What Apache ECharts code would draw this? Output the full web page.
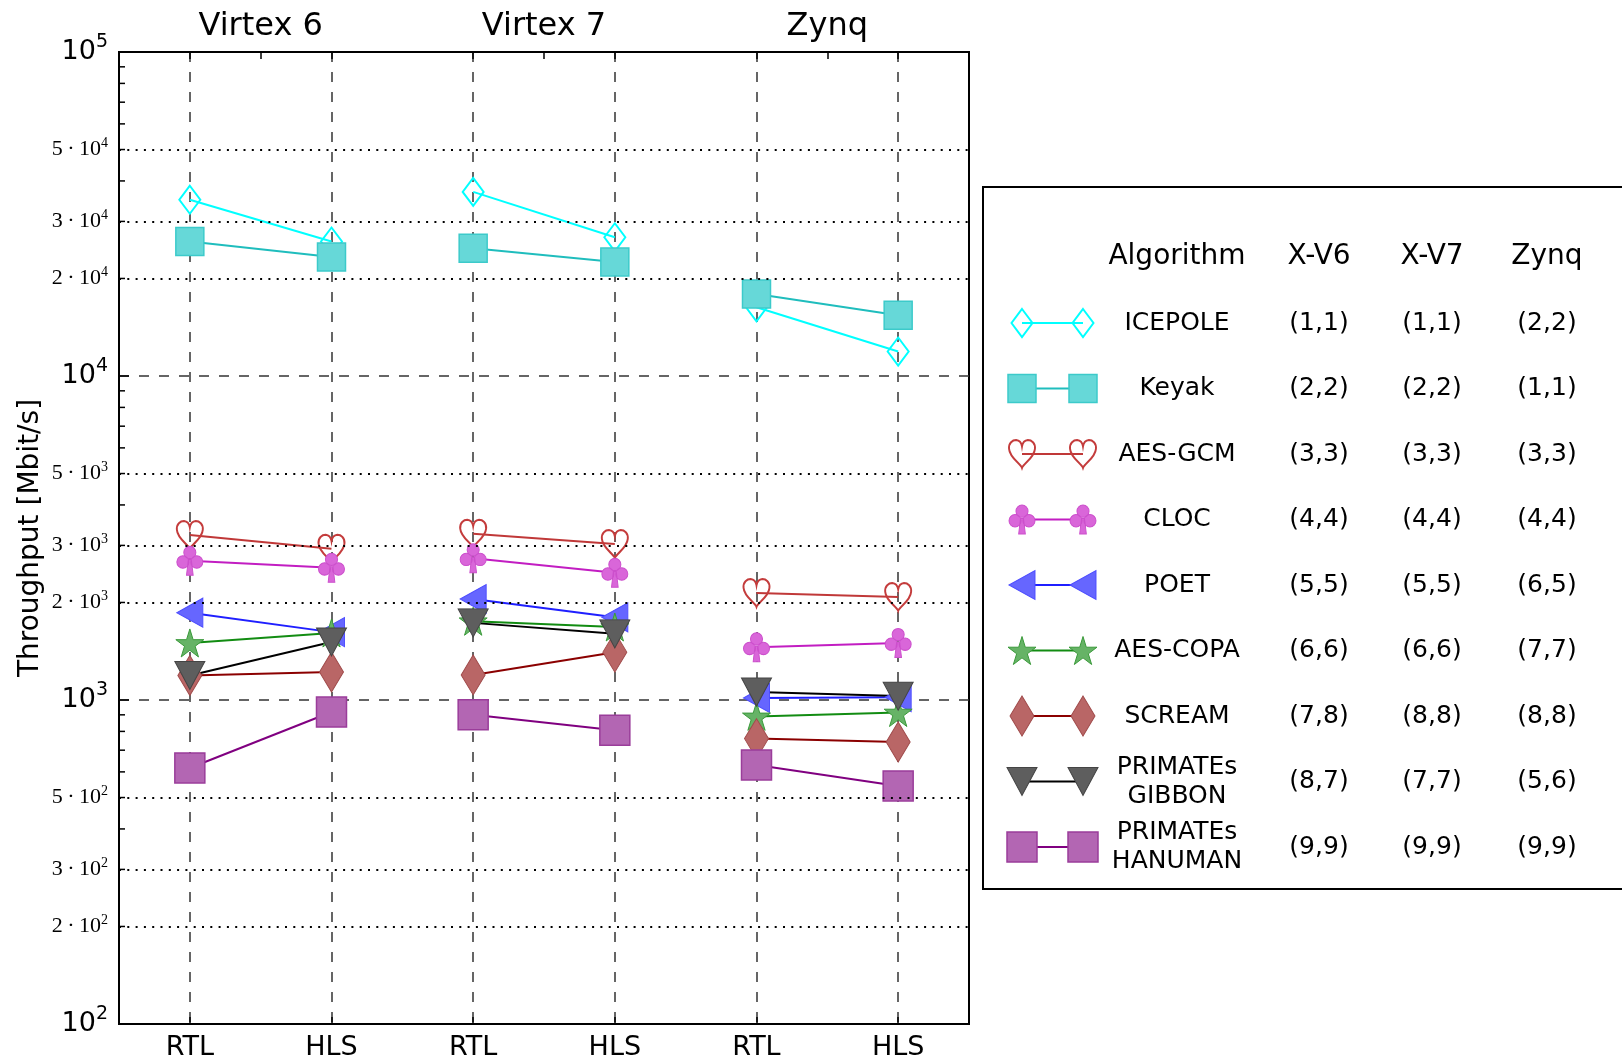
<!DOCTYPE html>
<html>
<head>
<meta charset="utf-8">
<title>Throughput RTL vs HLS</title>
<script src="https://cdn.jsdelivr.net/npm/echarts@6/dist/echarts.min.js"></script>
<style>
  html, body { margin: 0; padding: 0; background: #fff; }
  #chart { width: 1622px; height: 1061px; }
</style>
</head>
<body>
<div id="chart"></div>
<script>
// ---------- data ----------
// x categories and the platform groups above them
const categories = ['RTL', 'HLS', 'RTL', 'HLS', 'RTL', 'HLS'];
const platforms = ['Virtex 6', 'Virtex 7', 'Zynq'];

// throughput [Mbit/s]: V6 RTL, V6 HLS, V7 RTL, V7 HLS, Zynq RTL, Zynq HLS
const icepole = [35000, 26000, 37000, 26800, 16300, 11900];
const keyak = [26000, 23300, 24800, 22500, 17900, 15400];
const aesGcm = [3230, 2930, 3260, 3030, 2140, 2080];
const cloc = [2690, 2560, 2740, 2470, 1455, 1500];
const poet = [1860, 1620, 2050, 1800, 1015, 1020];
const aesCopa = [1500, 1610, 1750, 1680, 890, 915];
const scream = [1190, 1220, 1195, 1405, 760, 742];
const gibbon = [1190, 1510, 1730, 1600, 1058, 1028];
const hanuman = [617, 918, 900, 807, 630, 543];

const algorithms = ['ICEPOLE', 'Keyak', 'AES-GCM', 'CLOC', 'POET', 'AES-COPA', 'SCREAM',
  'PRIMATEs\nGIBBON', 'PRIMATEs\nHANUMAN'];

// ranking table (legend)
const rankHeader = ['Algorithm', 'X-V6', 'X-V7', 'Zynq'];
const rankV6 = ['(1,1)', '(2,2)', '(3,3)', '(4,4)', '(5,5)', '(6,6)', '(7,8)', '(8,7)', '(9,9)'];
const rankV7 = ['(1,1)', '(2,2)', '(3,3)', '(4,4)', '(5,5)', '(6,6)', '(8,8)', '(7,7)', '(9,9)'];
const rankZynq = ['(2,2)', '(1,1)', '(3,3)', '(4,4)', '(6,5)', '(7,7)', '(8,8)', '(5,6)', '(9,9)'];

// y axis ticks
const yMajorTicks = [100, 1000, 10000, 100000];
const yMajorLabels = [['10', '2'], ['10', '3'], ['10', '4'], ['10', '5']];
const yDotTicks = [200, 300, 500, 2000, 3000, 5000, 20000, 30000, 50000];
const yDotLabels = [['2', '2'], ['3', '2'], ['5', '2'], ['2', '3'], ['3', '3'], ['5', '3'],
  ['2', '4'], ['3', '4'], ['5', '4']];
const yMinorTicks = [200, 300, 400, 500, 600, 700, 800, 900,
  2000, 3000, 4000, 5000, 6000, 7000, 8000, 9000,
  20000, 30000, 40000, 50000, 60000, 70000, 80000, 90000];

// ---------- marker shapes ----------
function circ(cx, cy, r) {
  const k = 0.5523 * r;
  return 'M' + (cx - r) + ' ' + cy +
    'C' + (cx - r) + ' ' + (cy - k) + ' ' + (cx - k) + ' ' + (cy - r) + ' ' + cx + ' ' + (cy - r) +
    'C' + (cx + k) + ' ' + (cy - r) + ' ' + (cx + r) + ' ' + (cy - k) + ' ' + (cx + r) + ' ' + cy +
    'C' + (cx + r) + ' ' + (cy + k) + ' ' + (cx + k) + ' ' + (cy + r) + ' ' + cx + ' ' + (cy + r) +
    'C' + (cx - k) + ' ' + (cy + r) + ' ' + (cx - r) + ' ' + (cy + k) + ' ' + (cx - r) + ' ' + cy + 'Z';
}
function starPath() {
  let d = '';
  for (let i = 0; i < 10; i++) {
    const r = i % 2 ? 19 : 50;
    const a = -Math.PI / 2 + i * Math.PI / 5;
    d += (i ? 'L' : 'M') + (50 + r * Math.cos(a)).toFixed(2) + ' ' + (50 + r * Math.sin(a)).toFixed(2);
  }
  return d + 'Z';
}
const SYM = {
  thinDiamond: 'path://M50 0L100 50L50 100L0 50Z',
  heart: 'path://M50 94C45 80 8 62 6 34C4 15 18 6 30 6C41 7 48 15 50 26C52 15 59 7 70 6C82 6 96 15 94 34C92 62 55 80 50 94Z',
  club: 'path://' + circ(50, 26, 20) + circ(27, 57, 20) + circ(73, 57, 20) + 'M45 50L55 50L61 100L39 100Z',
  leftTri: 'path://M0 50L100 0L100 100Z',
  downTri: 'path://M0 0L100 0L50 100Z',
  star: 'path://' + starPath()
};

const styles = [
  { symbol: SYM.thinDiamond, size: [21, 28], fill: 'rgba(0,0,0,0)', edge: '#00ffff', edgeW: 2, line: '#00ffff' },
  { symbol: 'rect', size: [28, 28], fill: '#66d8d8', edge: '#3ccaca', edgeW: 1.5, line: '#1fbdbd' },
  { symbol: SYM.heart, size: [26, 28], fill: 'rgba(0,0,0,0)', edge: '#c43c3c', edgeW: 2, line: '#c03838' },
  { symbol: SYM.club, size: [26, 29], fill: '#d966d9', edge: '#cc4fcc', edgeW: 1, line: '#c21dc2' },
  { symbol: SYM.leftTri, size: [26, 29], fill: '#6666ff', edge: '#4d4dff', edgeW: 1, line: '#1f1fff' },
  { symbol: SYM.star, size: [28, 28], fill: '#66b366', edge: '#3a9a3a', edgeW: 1, line: '#128c12' },
  { symbol: 'diamond', size: [24, 40], fill: '#b96666', edge: '#a04a4a', edgeW: 1, line: '#8b0000' },
  { symbol: SYM.downTri, size: [30, 28], fill: '#5e5e5e', edge: '#444444', edgeW: 1, line: '#000000' },
  { symbol: 'rect', size: [30, 30], fill: '#b366b3', edge: '#9a3d9a', edgeW: 1.5, line: '#800080' }
];

const seriesValues = [icepole, keyak, aesGcm, cloc, poet, aesCopa, scream, gibbon, hanuman];

function lookup(ticks, labels, v) {
  for (let i = 0; i < ticks.length; i++) {
    if (Math.abs(v / ticks[i] - 1) < 1e-6) return labels[i];
  }
  return null;
}

const FONT = 'DejaVu Sans';
const tickLine = { color: '#000', width: 1.5 };

// ---------- series ----------
const series = [];

// minor ticks on the left spine + dotted 2/3/5 grid lines with labels
series.push({
  type: 'custom',
  xAxisIndex: 0,
  yAxisIndex: 0,
  silent: true,
  data: yMinorTicks.map(v => [0, v]),
  encode: { x: 0, y: 1 },
  renderItem: function (params, api) {
    const y = api.coord([0, api.value(1)])[1];
    const x0 = params.coordSys.x;
    return {
      type: 'line',
      shape: { x1: x0, y1: y, x2: x0 + 6, y2: y },
      style: { stroke: '#000', lineWidth: 1.5 }
    };
  },
  markLine: {
    silent: true,
    symbol: ['none', 'none'],
    animation: false,
    lineStyle: { color: '#000', type: [2, 6.3], width: 2 },
    label: {
      show: true,
      position: 'start',
      distance: 11,
      formatter: function (p) {
        const l = lookup(yDotTicks, yDotLabels, p.value);
        return '{b|' + l[0] + '\u2009·\u200910}{s|' + l[1] + '}';
      },
      rich: {
        b: { fontFamily: 'Liberation Serif', fontSize: 22, lineHeight: 26, color: '#000', verticalAlign: 'middle' },
        s: { fontFamily: 'Liberation Serif', fontSize: 14, lineHeight: 14, color: '#000', verticalAlign: 'top' }
      }
    },
    data: yDotTicks.map(v => ({ yAxis: v }))
  }
});

seriesValues.forEach((vals, k) => {
  const st = styles[k];
  platforms.forEach((p, g) => {
    series.push({
      type: 'line',
      name: algorithms[k] + ' ' + p,
      xAxisIndex: 0,
      yAxisIndex: 0,
      data: categories.map((c, i) => (Math.floor(i / 2) === g ? vals[i] : '-')),
      symbol: st.symbol,
      symbolSize: st.size,
      showAllSymbol: true,
      itemStyle: { color: st.fill, borderColor: st.edge, borderWidth: st.edgeW, opacity: 1 },
      lineStyle: { color: st.line, width: 2 },
      silent: true
    });
  });
  // legend sample row
  series.push({
    type: 'line',
    name: algorithms[k] + ' legend',
    xAxisIndex: 3,
    yAxisIndex: 1,
    data: [[0, k], [1, k]],
    clip: false,
    symbol: st.symbol,
    symbolSize: st.size,
    itemStyle: { color: st.fill, borderColor: st.edge, borderWidth: st.edgeW, opacity: 1 },
    lineStyle: { color: st.line, width: 2 },
    silent: true
  });
});

// ---------- legend table (box + text) ----------
const colX = [1177, 1319, 1432, 1547];
const headerY = 257;
const rowY0 = 323;
const rowStep = 65.5;
const graphics = [{
  type: 'rect',
  z: 0,
  silent: true,
  shape: { x: 983, y: 187, width: 700, height: 702 },
  style: { fill: '#fff', stroke: '#000', lineWidth: 2 }
}];
rankHeader.forEach((t, j) => {
  graphics.push({
    type: 'text', z: 10, silent: true, x: colX[j], y: headerY,
    style: { text: t, fontFamily: FONT, fontSize: 28, fill: '#000', align: 'center', verticalAlign: 'middle' }
  });
});
algorithms.forEach((name, i) => {
  const cells = [name, rankV6[i], rankV7[i], rankZynq[i]];
  cells.forEach((t, j) => {
    graphics.push({
      type: 'text', z: 10, silent: true, x: colX[j], y: rowY0 + rowStep * i,
      style: { text: t, fontFamily: FONT, fontSize: 25, lineHeight: 29, fill: '#000', align: 'center', verticalAlign: 'middle' }
    });
  });
});

// ---------- chart ----------
const chart = echarts.init(document.getElementById('chart'), null, { renderer: 'canvas' });
chart.setOption({
  animation: false,
  backgroundColor: '#fff',
  textStyle: { fontFamily: FONT, color: '#000' },
  grid: [
    { left: 119, top: 52, width: 850, height: 972, show: true, borderColor: '#000', borderWidth: 2,
      backgroundColor: '#fff', containLabel: false, outerBoundsMode: 'none' },
    { left: 1022, top: rowY0, width: 61, height: rowStep * 8, show: false, containLabel: false, outerBoundsMode: 'none' }
  ],
  xAxis: [
    {
      type: 'category', gridIndex: 0, data: categories, position: 'bottom', boundaryGap: true,
      axisLine: { show: true, lineStyle: { color: '#000', width: 2 } },
      axisTick: { show: true, inside: true, alignWithLabel: true, length: 7, interval: 0, lineStyle: tickLine },
      axisLabel: { interval: 0, margin: 10, fontSize: 27, fontFamily: FONT, color: '#000' },
      splitLine: { show: true, interval: 0, alignWithLabel: true,
        lineStyle: { color: '#333', type: [10, 10], width: 1.5 } }
    },
    {
      type: 'category', gridIndex: 0, data: platforms, position: 'top', boundaryGap: true,
      axisLine: { show: true, lineStyle: { color: '#000', width: 2 } },
      axisTick: { show: true, inside: true, alignWithLabel: true, length: 7, interval: 0, lineStyle: tickLine },
      axisLabel: { interval: 0, margin: 9, fontSize: 32, fontFamily: FONT, color: '#000' },
      splitLine: { show: false }
    },
    {
      type: 'category', gridIndex: 0, data: categories, position: 'top', boundaryGap: true,
      axisLine: { show: false },
      axisTick: { show: true, inside: true, alignWithLabel: true, length: 7, interval: 0, lineStyle: tickLine },
      axisLabel: { show: false },
      splitLine: { show: false }
    },
    { type: 'value', gridIndex: 1, min: 0, max: 1, show: false }
  ],
  yAxis: [
    {
      type: 'log', gridIndex: 0, logBase: 10, min: 100, max: 100000, splitNumber: 3,
      name: 'Throughput [Mbit/s]', nameLocation: 'middle', nameGap: 74, nameRotate: 90,
      nameTextStyle: { fontSize: 28, fontFamily: FONT, color: '#000' },
      axisLine: { show: true, lineStyle: { color: '#000', width: 2 } },
      axisTick: { show: true, inside: true, length: 10, lineStyle: tickLine },
      axisLabel: {
        margin: 11,
        formatter: function (v) {
          const l = lookup(yMajorTicks, yMajorLabels, v);
          return l ? '{b|' + l[0] + '}{s|' + l[1] + '}' : '';
        },
        rich: {
          b: { fontFamily: FONT, fontSize: 27, lineHeight: 38, color: '#000', verticalAlign: 'middle' },
          s: { fontFamily: FONT, fontSize: 19, lineHeight: 19, color: '#000', verticalAlign: 'top' }
        }
      },
      splitLine: { show: true, showMinLine: false, showMaxLine: false,
        lineStyle: { color: '#333', type: [10, 10], width: 1.5 } }
    },
    { type: 'value', gridIndex: 1, min: 0, max: 8, inverse: true, show: false }
  ],
  graphic: graphics,
  series: series
});
</script>
</body>
</html>
